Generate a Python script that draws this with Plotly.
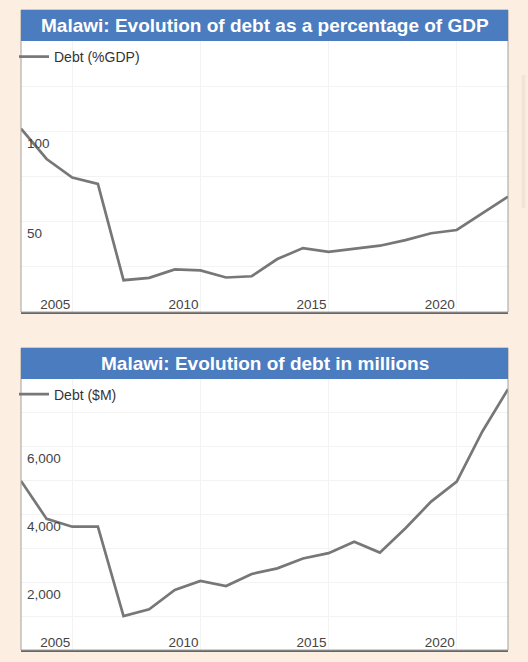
import plotly.graph_objects as go

# Malawi debt
years = list(range(2003, 2023))
debt_pct_gdp = [101.5, 84.7, 74.4, 70.9, 17.6, 18.9, 23.6, 23.0, 19.1, 19.8,
                29.3, 35.4, 33.3, 35.2, 36.7, 39.8, 43.6, 45.4, 54.8, 63.9]
debt_musd = [4990, 3870, 3640, 3640, 1000, 1200, 1770, 2040, 1890, 2245,
             2410, 2700, 2860, 3195, 2875, 3595, 4380, 4970, 6450, 7700]

year_ticks = [2005, 2010, 2015, 2020]
pct_ticks = [50, 100]
musd_ticks = [2000, 4000, 6000]
musd_ticktext = ["2,000", "4,000", "6,000"]

title_top = "Malawi: Evolution of debt as a percentage of GDP"
title_bottom = "Malawi: Evolution of debt in millions"

W, H = 528, 662
BG = "#fcefe1"
BLUE = "#4a7cbf"
LINE = "#777777"
GRID = "#f3f3f3"
FONT = "Liberation Sans, Arial, sans-serif"

def px_x(v):
    return v / W

def px_y(v):
    return 1 - v / H

fig = go.Figure()
fig.add_trace(go.Scatter(x=years, y=debt_pct_gdp, mode="lines", name="Debt (%GDP)",
                         line=dict(color=LINE, width=2.7), xaxis="x", yaxis="y",
                         legend="legend", hoverinfo="x+y"))
fig.add_trace(go.Scatter(x=years, y=debt_musd, mode="lines", name="Debt ($M)",
                         line=dict(color=LINE, width=2.7), xaxis="x2", yaxis="y2",
                         legend="legend2", hoverinfo="x+y"))

xdom = [px_x(21), px_x(508)]

def xaxis_style(anchor):
    return dict(domain=xdom, anchor=anchor, range=[2003, 2022],
                tickvals=year_ticks, ticktext=[str(y) for y in year_ticks],
                ticks="", ticklabelposition="inside", ticklabelshift=-17,
                tickfont=dict(size=13.5, color="#444"),
                showgrid=True, gridcolor=GRID, gridwidth=1, zeroline=False,
                showline=True, linecolor="#666", linewidth=1.5, fixedrange=True)

def yaxis_style(anchor, dom, rng, vals, text, minor_step):
    return dict(domain=dom, anchor=anchor, range=rng, tickvals=vals, ticktext=text,
                ticks="", ticklabelposition="inside", ticklabelshift=12,
                ticklabelstandoff=3, tickfont=dict(size=13.5, color="#444"),
                showgrid=True, gridcolor=GRID, gridwidth=1, zeroline=False,
                minor=dict(dtick=minor_step, tick0=0, showgrid=True, gridcolor=GRID),
                showline=False, fixedrange=True)

top_plot = [px_y(312), px_y(41)]
bot_plot = [px_y(650), px_y(379)]

legend_font = dict(size=14, color="#333")

fig.update_layout(
    width=W, height=H, margin=dict(l=0, r=0, t=0, b=0),
    paper_bgcolor=BG, plot_bgcolor="white",
    font=dict(family=FONT, color="#333"),
    xaxis=xaxis_style("y"),
    yaxis=yaxis_style("x", top_plot, [0, 150], pct_ticks, [str(v) for v in pct_ticks], 25),
    xaxis2=xaxis_style("y2"),
    yaxis2=yaxis_style("x2", bot_plot, [0, 8000], musd_ticks, musd_ticktext, 1000),
    legend=dict(x=px_x(14), y=px_y(57), xanchor="left", yanchor="middle",
                bgcolor="rgba(0,0,0,0)", font=legend_font),
    legend2=dict(x=px_x(14), y=px_y(394.5), xanchor="left", yanchor="middle",
                 bgcolor="rgba(0,0,0,0)", font=legend_font),
    showlegend=True,
)

# panel frames and blue title bars
for top, bottom in [(10, 312), (348, 650)]:
    fig.add_shape(type="rect", xref="paper", yref="paper",
                  x0=xdom[0], x1=xdom[1], y0=px_y(bottom), y1=px_y(top),
                  line=dict(color="#a0a0a0", width=1), layer="above")
    fig.add_shape(type="rect", xref="paper", yref="paper",
                  x0=xdom[0], x1=xdom[1], y0=px_y(top + 31), y1=px_y(top),
                  fillcolor=BLUE, line=dict(width=0), layer="above")

# faint scrollbar-like strip at the right of the top panel
fig.add_shape(type="rect", xref="paper", yref="paper",
              x0=px_x(521.5), x1=px_x(525.5), y0=px_y(208), y1=px_y(75),
              fillcolor="#f1e5d8", line=dict(width=0))

for txt, yc in [(title_top, 25.5), (title_bottom, 363.5)]:
    fig.add_annotation(text="<b>%s</b>" % txt, xref="paper", yref="paper",
                       x=(xdom[0] + xdom[1]) / 2, y=px_y(yc), showarrow=False,
                       xanchor="center", yanchor="middle",
                       font=dict(size=19, color="white", family=FONT))

fig.write_html("out.html", config={"displayModeBar": False},
               post_script="document.body.style.margin='0';")
